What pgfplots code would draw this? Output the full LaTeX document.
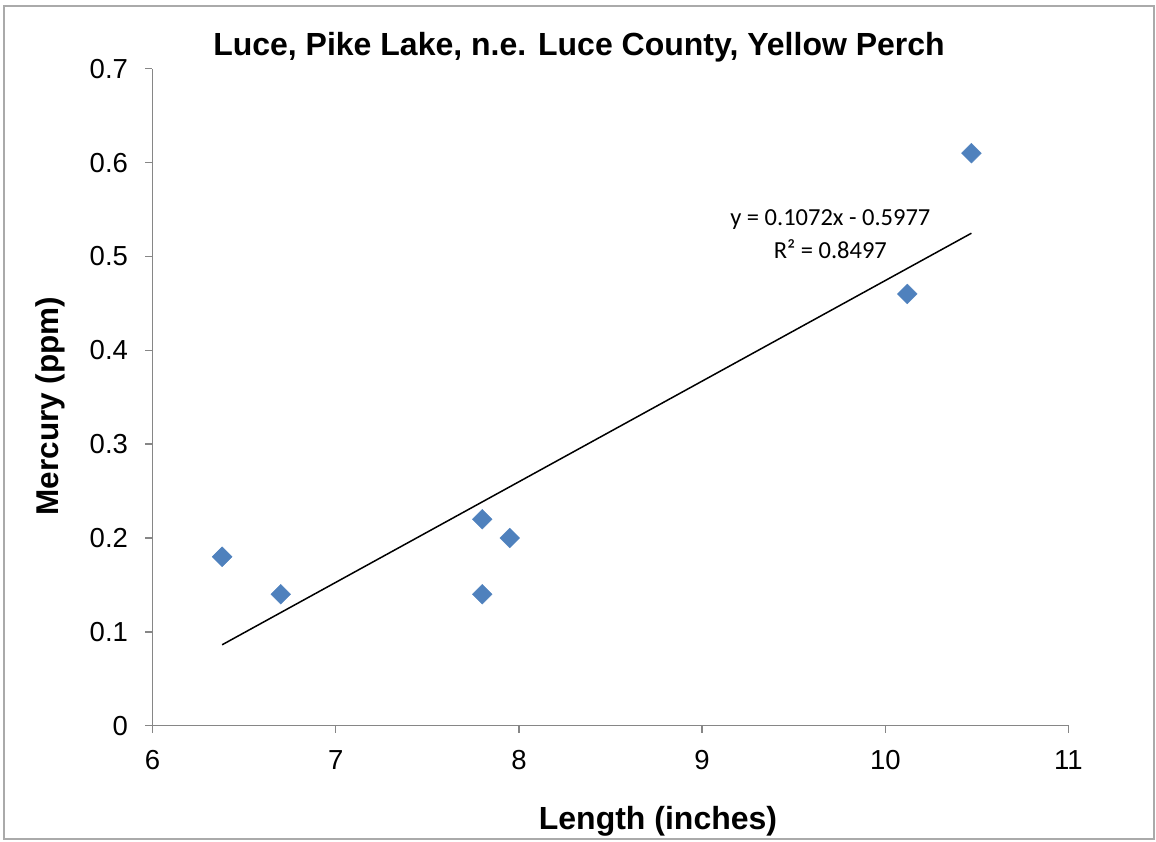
\documentclass[border=0pt]{standalone}
\usepackage{pgfplots}
\pgfplotsset{compat=1.18}
\usetikzlibrary{calc}
\usepackage{fontspec}
\setmainfont{Liberation Sans}
\newfontfamily\calibri{Carlito}
\definecolor{ptblue}{HTML}{4F81BD}
\definecolor{axgray}{HTML}{868686}

\begin{document}
\begin{tikzpicture}
\begin{axis}[
    name=ax,
    at={(0,0)}, anchor=south west,
    scale only axis,
    width=916pt, height=657pt,
    xmin=6, xmax=11, ymin=0, ymax=0.7,
    axis lines=left,
    axis line style={axgray, line width=1.5pt, -},
    xtick={6,7,8,9,10,11},
    ytick={0,0.1,0.2,0.3,0.4,0.5,0.6,0.7},
    yticklabels={0,0.1,0.2,0.3,0.4,0.5,0.6,0.7},
    tick align=outside,
    major tick length=7pt,
    tick style={axgray, line width=1.5pt},
    /pgf/number format/assume math mode=true,
    ticklabel style={font=\fontsize{27.5}{32}\selectfont},
    yticklabel style={xshift=-14pt},
    xticklabel style={yshift=-14pt},
    clip=false,
]
\addplot[only marks, mark=square*, mark size=7pt,
    mark options={rotate=45, fill=ptblue, draw=ptblue}]
    coordinates {
    (6.38,0.18)
    (6.70,0.14)
    (7.80,0.22)
    (7.80,0.14)
    (7.95,0.20)
    (10.12,0.46)
    (10.47,0.61)
};
% linear trend line y = 0.1072x - 0.5977
\addplot[black, line width=1.5pt] coordinates {
    (6.38,0.0862)
    (10.47,0.5247)
};
\node[align=center, font=\calibri\fontsize{24.5}{33}\selectfont]
    at (axis cs:9.70,0.524) {y = 0.1072x - 0.5977\\R² = 0.8497};
\end{axis}
\useasboundingbox ($(ax.south west)+(-152.5pt,-116.3pt)$) rectangle ($(ax.south west)+(1003.5pt,725.7pt)$);
\draw[axgray!70, line width=1.5pt] ($(ax.south west)+(-148.5pt,-113.3pt)$) rectangle ($(ax.south west)+(1001.5pt,719.7pt)$);
\node[font=\bfseries\fontsize{32}{38}\selectfont] at ($(ax.south west)+(426.5pt,678pt)$) {Luce, Pike Lake, n.e. Luce County, Yellow Perch};
\node[font=\bfseries\fontsize{32}{38}\selectfont] at ($(ax.south west)+(505.5pt,-96pt)$) {Length (inches)};
\node[font=\bfseries\fontsize{31.5}{38}\selectfont, rotate=90] at ($(ax.south west)+(-102.5pt,319.7pt)$) {Mercury (ppm)};
\end{tikzpicture}
\end{document}
